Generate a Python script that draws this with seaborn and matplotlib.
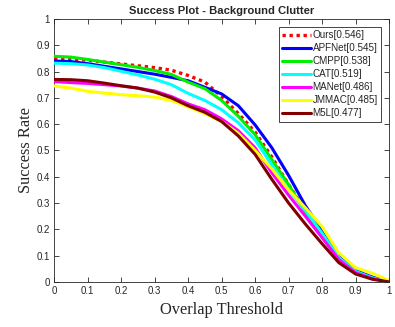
import numpy as np
import pandas as pd
import seaborn as sns
import matplotlib
matplotlib.use("Agg")
import matplotlib.pyplot as plt

# Overlap thresholds (x axis)
thresholds = [0.00, 0.05, 0.10, 0.15, 0.20, 0.25, 0.30, 0.35, 0.40, 0.45, 0.50,
              0.55, 0.60, 0.65, 0.70, 0.75, 0.80, 0.85, 0.90, 0.95, 1.00]

# Success rates per tracker
ours   = [0.850, 0.848, 0.843, 0.836, 0.829, 0.822, 0.815, 0.805, 0.785, 0.760, 0.705,
          0.640, 0.570, 0.475, 0.370, 0.272, 0.182, 0.090, 0.038, 0.014, 0.000]
apfnet = [0.840, 0.838, 0.830, 0.820, 0.810, 0.800, 0.790, 0.778, 0.765, 0.740, 0.715,
          0.670, 0.597, 0.510, 0.405, 0.290, 0.195, 0.097, 0.043, 0.018, 0.000]
cmpp   = [0.858, 0.855, 0.846, 0.836, 0.826, 0.816, 0.804, 0.789, 0.760, 0.735, 0.690,
          0.630, 0.560, 0.465, 0.370, 0.265, 0.180, 0.088, 0.038, 0.014, 0.000]
cat    = [0.832, 0.830, 0.825, 0.815, 0.801, 0.787, 0.771, 0.750, 0.717, 0.690, 0.655,
          0.605, 0.540, 0.445, 0.350, 0.272, 0.185, 0.092, 0.040, 0.015, 0.000]
manet  = [0.762, 0.758, 0.755, 0.750, 0.745, 0.737, 0.726, 0.705, 0.677, 0.655, 0.620,
          0.575, 0.510, 0.415, 0.330, 0.250, 0.168, 0.085, 0.035, 0.012, 0.000]
jmmac  = [0.745, 0.737, 0.725, 0.718, 0.712, 0.708, 0.703, 0.690, 0.666, 0.640, 0.610,
          0.565, 0.500, 0.430, 0.350, 0.282, 0.210, 0.110, 0.054, 0.033, 0.005]
m5l    = [0.770, 0.769, 0.765, 0.756, 0.746, 0.737, 0.722, 0.700, 0.670, 0.645, 0.610,
          0.555, 0.485, 0.390, 0.300, 0.220, 0.145, 0.073, 0.030, 0.010, 0.000]

labels = ["Ours[0.546]", "APFNet[0.545]", "CMPP[0.538]", "CAT[0.519]",
          "MANet[0.486]", "JMMAC[0.485]", "M5L[0.477]"]
colors = ["#ff0000", "#0000ff", "#00ee00", "#00ffff", "#ff00ff", "#ffff00", "#800000"]
series = [ours, apfnet, cmpp, cat, manet, jmmac, m5l]

df = pd.concat(
    [pd.DataFrame({"threshold": thresholds, "rate": s, "tracker": lab})
     for s, lab in zip(series, labels)],
    ignore_index=True,
)

sns.set_style("white")
plt.rcParams["font.family"] = ["Liberation Sans", "DejaVu Sans"]

fig = plt.figure(figsize=(3.95, 3.27), dpi=100)
ax = fig.add_axes([0.137, 0.138, 0.848, 0.804])

# later trackers are drawn over earlier ones
for z, (lab, col) in enumerate(zip(labels, colors)):
    sub = df[df["tracker"] == lab]
    if lab.startswith("Ours"):
        sns.lineplot(data=sub, x="threshold", y="rate", ax=ax, color=col,
                     linewidth=2.4, linestyle=(0, (1, 1.1)), label=lab, zorder=3 + z)
    else:
        sns.lineplot(data=sub, x="threshold", y="rate", ax=ax, color=col,
                     linewidth=2.2, label=lab, zorder=3 + z)

ax.set_xlim(0, 1)
ax.set_ylim(0, 1)
ax.set_xticks(np.arange(0, 1.01, 0.1))
ax.set_yticks(np.arange(0, 1.01, 0.1))
ax.set_xticklabels(["0", "0.1", "0.2", "0.3", "0.4", "0.5", "0.6", "0.7", "0.8", "0.9", "1"])
ax.set_yticklabels(["0", "0.1", "0.2", "0.3", "0.4", "0.5", "0.6", "0.7", "0.8", "0.9", "1"])
ax.tick_params(direction="in", length=3.5, width=0.6, labelsize=7, colors="#262626",
               top=True, right=True, bottom=True, left=True, pad=3)
for sp in ax.spines.values():
    sp.set_visible(True)
    sp.set_color("#262626")
    sp.set_linewidth(0.6)

ax.set_title("Success Plot - Background Clutter", fontsize=8.1, fontweight="bold", pad=3.5)
ax.set_xlabel("Overlap Threshold", fontsize=11.8, family="Liberation Serif", labelpad=4.5)
ax.set_ylabel("Success Rate", fontsize=11.8, family="Liberation Serif", labelpad=2)

leg = ax.legend(loc="upper right", bbox_to_anchor=(0.977, 0.97), fontsize=7.1,
                frameon=True, fancybox=False, framealpha=1, edgecolor="#262626",
                handlelength=2.9, handletextpad=0.2, labelspacing=0.3,
                borderpad=0.35, borderaxespad=0.0)
leg.get_frame().set_linewidth(0.6)

fig.savefig("out.png", dpi=100)
